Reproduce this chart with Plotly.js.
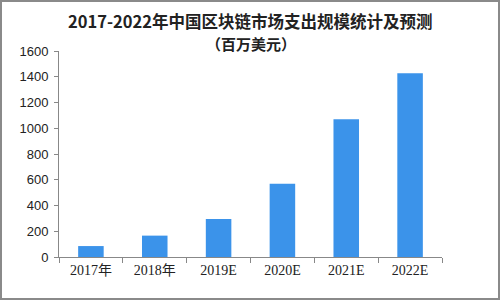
<!DOCTYPE html>
<html><head><meta charset="utf-8">
<script src="https://cdn.plot.ly/plotly-3.0.1.min.js"></script>
<style>html,body{margin:0;padding:0;background:#fff}#c{width:500px;height:300px;box-sizing:border-box;border:2px solid #8a8a8a;}</style>
</head><body><div id="c"></div>
<script>
var categories = ['2017年','2018年','2019E','2020E','2021E','2022E'];
var spending = [85, 166, 296, 568, 1070, 1428];
var yTicks = [0,200,400,600,800,1000,1200,1400,1600];
var titleText = '2017-2022年中国区块链市场支出规模统计及预测';
var subtitleText = '（百万美元）';

Plotly.newPlot('c', [{
  type: 'bar', x: categories, y: spending,
  marker: {color: '#3b93ea'}, hoverinfo: 'none'
}], {
  width: 496, height: 296,
  margin: {l: 57, r: 56, t: 49, b: 41},
  paper_bgcolor: '#fff', plot_bgcolor: '#fff',
  bargap: 0.6,
  showlegend: false,
  annotations: [
    {text: '<b>' + titleText + '</b>', xref: 'paper', yref: 'paper', x: 0.5, y: 1.148, xanchor: 'center', yanchor: 'middle', showarrow: false,
      font: {family: 'Noto Sans CJK SC', size: 16.5, color: '#222'}},
    {text: '<b>' + subtitleText + '</b>', xref: 'paper', yref: 'paper', x: 0.5, y: 1.036, xanchor: 'center', yanchor: 'middle', showarrow: false,
      font: {family: 'Noto Sans CJK SC', size: 15, color: '#222'}}
  ],
  xaxis: {showline: true, linecolor: '#888', ticks: 'outside', tickson: 'boundaries', ticklen: 5, tickcolor: '#888',
    tickfont: {family: 'Liberation Serif, Noto Sans CJK SC', size: 14, color: '#222'}, showgrid: false, zeroline: false},
  yaxis: {range: [0, 1600], tickvals: yTicks, showline: true, linecolor: '#888', ticks: 'outside', ticklen: 4, tickcolor: '#888',
    ticklabelstandoff: 3,
    tickfont: {family: 'Liberation Sans', size: 13, color: '#222'}, showgrid: false, zeroline: false}
}, {staticPlot: true});
</script></body></html>
